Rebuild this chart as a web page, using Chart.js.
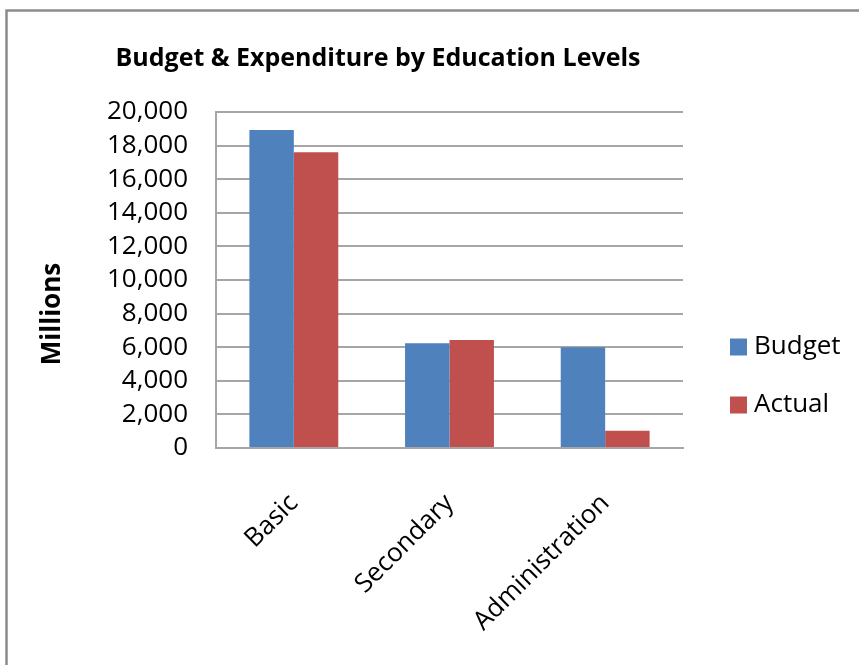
<!DOCTYPE html>
<html>
<head>
<meta charset="utf-8">
<title>Budget & Expenditure by Education Levels</title>
<script src="https://cdn.jsdelivr.net/npm/chart.js@4.4.1/dist/chart.umd.min.js"></script>
<style>
  html, body { margin: 0; padding: 0; background: #fff; }
  #wrap { width: 859px; height: 665px; position: relative; }
</style>
</head>
<body>
<div id="wrap"><canvas id="budgetChart" width="859" height="665"></canvas></div>
<script>
// ── budget vs actual spend, millions ───────────────────────────────
const levels   = ['Basic', 'Secondary', 'Administration'];
const budget   = [18930, 6230, 6000];
const actual   = [17600, 6430, 1030];
const yTicks   = [0, 2000, 4000, 6000, 8000, 10000, 12000, 14000, 16000, 18000, 20000];

const chartTitle = 'Budget & Expenditure by Education Levels';
const yTitle     = 'Millions';

const FONT = '"Open Sans", "Liberation Sans", sans-serif';
const GRID = '#a6a6a6';

// title, axis title, legend and frame drawn by hand
const decorations = {
  id: 'decorations',
  beforeDraw(chart) {
    const ctx = chart.ctx;
    ctx.save();
    ctx.strokeStyle = '#8c8c8c';
    ctx.lineWidth = 2.5;
    ctx.beginPath();
    ctx.moveTo(6.5, 665);
    ctx.lineTo(6.5, 10.5);
    ctx.lineTo(859, 10.5);
    ctx.stroke();
    ctx.restore();
  },
  afterDraw(chart) {
    const ctx = chart.ctx;
    ctx.save();
    ctx.fillStyle = '#000';

    ctx.font = 'bold 25px ' + FONT;
    ctx.textAlign = 'center';
    ctx.textBaseline = 'alphabetic';
    ctx.fillText(chartTitle, 378, 66);

    ctx.save();
    ctx.translate(53, 314);
    ctx.rotate(-Math.PI / 2);
    ctx.font = 'bold 26px ' + FONT;
    ctx.textBaseline = 'middle';
    ctx.fillText(yTitle, 0, 0);
    ctx.restore();

    ctx.font = '26px ' + FONT;
    ctx.textAlign = 'left';
    ctx.textBaseline = 'middle';
    chart.data.datasets.forEach((ds, i) => {
      const cy = 347 + i * 58;
      ctx.fillStyle = ds.backgroundColor;
      ctx.fillRect(730, cy - 8.5, 17, 17);
      ctx.fillStyle = '#000';
      ctx.fillText(ds.label, 754, cy);
    });
    ctx.restore();
  }
};

new Chart(document.getElementById('budgetChart'), {
  type: 'bar',
  data: {
    labels: levels,
    datasets: [
      { label: 'Budget', data: budget, backgroundColor: '#4f81bd' },
      { label: 'Actual', data: actual, backgroundColor: '#c0504d' },
    ],
  },
  options: {
    responsive: false,
    animation: false,
    layout: { padding: { left: 0, top: 112, right: 176, bottom: 0 } },
    plugins: {
      legend: { display: false },
      title: { display: false },
      tooltip: { enabled: false },
    },
    datasets: { bar: { categoryPercentage: 0.571, barPercentage: 1 } },
    scales: {
      x: {
        grid: { display: false },
        border: { display: true, color: GRID, width: 2 },
        ticks: {
          color: '#000',
          font: { family: FONT, size: 26 },
          minRotation: 45,
          maxRotation: 45,
          autoSkip: false,
          padding: 32,
        },
        afterFit(s) { s.height = 665 - 448; },
      },
      y: {
        min: 0,
        max: 20000,
        afterBuildTicks(s) { s.ticks = yTicks.map(v => ({ value: v })); },
        grid: { color: GRID, lineWidth: 2, drawTicks: false },
        border: { display: true, color: GRID, width: 2 },
        ticks: {
          color: '#000',
          font: { family: FONT, size: 26 },
          autoSkip: false,
          padding: 28,
          callback: v => v.toLocaleString('en-US'),
        },
        afterFit(s) { s.width = 216; },
      },
    },
  },
  plugins: [decorations],
});
</script>
</body>
</html>
